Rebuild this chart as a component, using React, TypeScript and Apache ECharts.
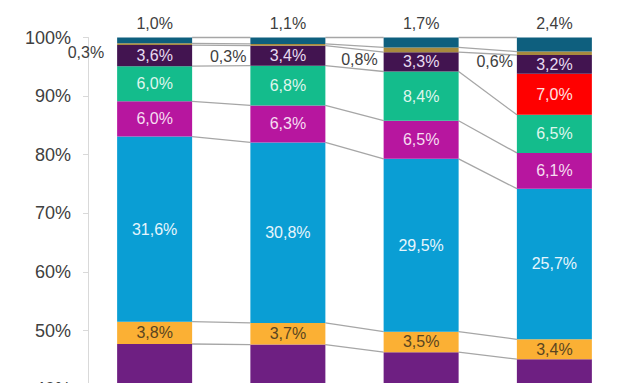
import React, { useEffect, useRef } from 'react';
import * as echarts from 'echarts';

// Categories (axis labels are outside the visible crop)
const categories = ['1', '2', '3', '4'];

// Series values (%), bottom to top of each stack
const baseShare = [47.7, 47.6, 46.3, 45.1];
const orangeShare = [3.8, 3.7, 3.5, 3.4];
const blueShare = [31.6, 30.8, 29.5, 25.7];
const magentaShare = [6.0, 6.3, 6.5, 6.1];
const greenShare = [6.0, 6.8, 8.4, 6.5];
const redShare: (number | null)[] = [null, null, null, 7.0];
const plumShare = [3.6, 3.4, 3.3, 3.2];
const tanShare = [0.3, 0.3, 0.8, 0.6];
const tealShare = [1.0, 1.1, 1.7, 2.4];

const FONT = "'Liberation Sans', Arial, sans-serif";
const BAR_W = 75;
const CHART_H = 640;

const fmt = (v: number) => v.toFixed(1).replace('.', ',') + '%';

// offsets for the outside-left labels of the thin tan segment
const tanLabelOffsets = [[-8, 8], [1, 12], [-1, 10], [1, 8]];

type Def = {
  name: string;
  data: (number | null)[];
  color: string;
  label?: any;
};

const defs: Def[] = [
  { name: 'base', data: baseShare, color: '#6E1F82' },
  { name: 'orange', data: orangeShare, color: '#FBB034', label: { color: '#5A4520' } },
  { name: 'blue', data: blueShare, color: '#0A9ED4', label: { color: '#E6F5FC' } },
  { name: 'magenta', data: magentaShare, color: '#B7169F', label: { color: '#F6DDF1' } },
  { name: 'green', data: greenShare, color: '#14BC8C', label: { color: '#DFF6EC' } },
  { name: 'red', data: redShare, color: '#FF0000', label: { color: '#FFE2E2' } },
  { name: 'plum', data: plumShare, color: '#421450', label: { color: '#E8DCF0' } },
  { name: 'tan', data: tanShare, color: '#A88A3E', label: { color: '#404040', position: 'left' } },
  { name: 'teal', data: tealShare, color: '#0E5F7E', label: { color: '#404040', position: 'top', distance: 6 } },
];

export default function App() {
  const ref = useRef<HTMLDivElement>(null);

  useEffect(() => {
    if (!ref.current) return;
    const chart = echarts.init(ref.current, undefined, { renderer: 'svg' });

    const barSeries = defs.map((d) => ({
      name: d.name,
      type: 'bar',
      stack: 'total',
      barWidth: BAR_W,
      z: 2,
      itemStyle: { color: d.color },
      label: d.label
        ? {
            show: true,
            position: d.label.position || 'inside',
            distance: d.label.distance ?? 5,
            color: d.label.color,
            fontSize: 16,
            fontFamily: FONT,
            formatter: (p: any) => (p.value == null ? '' : fmt(p.value)),
          }
        : { show: false },
      data: d.data.map((v, i) =>
        d.name === 'tan'
          ? { value: v, label: { offset: tanLabelOffsets[i] } }
          : v
      ),
    }));

    // cumulative tops for the series lines
    const lineData: number[][] = [];
    const cum = categories.map(() => 0);
    defs.forEach((d) => {
      const tops = categories.map((_, i) => {
        const v = d.data[i];
        if (v == null) return null;
        cum[i] += v;
        return cum[i];
      });
      for (let i = 0; i < categories.length - 1; i++) {
        const a = tops[i];
        const b = tops[i + 1];
        if (a != null && b != null) lineData.push([i, a, b]);
      }
    });

    const option: any = {
      animation: false,
      grid: { left: 88, right: -8, top: 37.5, bottom: CHART_H - 623.5, containLabel: false },
      xAxis: {
        type: 'category',
        data: categories,
        show: false,
      },
      yAxis: {
        type: 'value',
        min: 0,
        max: 100,
        interval: 10,
        axisLine: { show: true, lineStyle: { color: '#D9D9D9', width: 1 } },
        axisTick: { show: true, length: 5, lineStyle: { color: '#D9D9D9' } },
        splitLine: { show: false },
        axisLabel: {
          formatter: '{value}%',
          fontSize: 18,
          color: '#404040',
          fontFamily: FONT,
          margin: 17,
        },
      },
      series: [
        ...barSeries,
        {
          type: 'custom',
          name: 'seriesLines',
          z: 1,
          silent: true,
          data: lineData,
          renderItem: (params: any, api: any) => {
            const i = api.value(0);
            const p1 = api.coord([i, api.value(1)]);
            const p2 = api.coord([i + 1, api.value(2)]);
            return {
              type: 'line',
              shape: {
                x1: p1[0] + BAR_W / 2,
                y1: p1[1],
                x2: p2[0] - BAR_W / 2,
                y2: p2[1],
              },
              style: { stroke: '#A6A6A6', lineWidth: 1.3 },
            };
          },
        },
      ],
    };

    chart.setOption(option);
    return () => chart.dispose();
  }, []);

  return (
    <div
      style={{
        position: 'fixed',
        left: 0,
        top: 0,
        width: 621,
        height: 383,
        overflow: 'hidden',
        background: '#fff',
      }}
    >
      <div ref={ref} style={{ width: 621, height: CHART_H }} />
    </div>
  );
}
